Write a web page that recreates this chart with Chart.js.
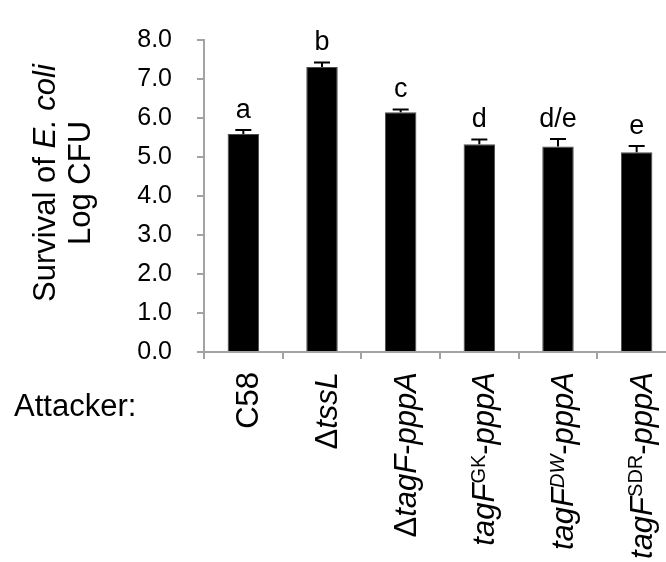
<!DOCTYPE html>
<html>
<head>
<meta charset="utf-8">
<script src="https://cdn.jsdelivr.net/npm/chart.js@4/dist/chart.umd.min.js"></script>
<style>
  html, body { margin: 0; padding: 0; background: #fff; overflow: hidden; }
  #wrap { width: 676px; height: 562px; }
</style>
</head>
<body>
<div id="wrap"><canvas id="c" width="676" height="562"></canvas></div>
<script>
// Attacker strains, mean survival of E. coli (log CFU), standard errors and group letters
const categories = ['C58', 'ΔtssL', 'ΔtagF-pppA', 'tagFGK-pppA', 'tagFDW-pppA', 'tagFSDR-pppA'];
const survival = [5.59, 7.31, 6.15, 5.33, 5.27, 5.12];
const stdErr = [0.10, 0.11, 0.07, 0.12, 0.19, 0.16];
const groupLetters = ['a', 'b', 'c', 'd', 'd/e', 'e'];
const yMin = 0, yMax = 8, yStep = 1;

// Styled pieces of each strain name: '' plain, 'i' italic, 's' superscript, 'si' italic superscript
const labelParts = [
  [['C58', '']],
  [['Δ', ''], ['tssL', 'i']],
  [['Δ', ''], ['tagF', 'i'], ['-', ''], ['pppA', 'i']],
  [['tagF', 'i'], ['GK', 's'], ['-', ''], ['pppA', 'i']],
  [['tagF', 'i'], ['DW', 'si'], ['-', ''], ['pppA', 'i']],
  [['tagF', 'i'], ['SDR', 's'], ['-', ''], ['pppA', 'i']]
];
const titleLines = [
  [['Survival of ', ''], ['E. coli', 'i']],
  [['Log CFU', '']]
];

const FAMILY = "'Liberation Sans', Arial, sans-serif";
const AXIS_GREY = '#a3a3a3';

function partFont(style, size) {
  const sup = style.indexOf('s') >= 0;
  const it = style.indexOf('i') >= 0;
  const px = sup ? Math.round(size * 0.65) : size;
  return (it ? 'italic ' : '') + px + 'px ' + FAMILY;
}
function richWidth(ctx, parts, size) {
  let w = 0;
  parts.forEach(([t, s]) => { ctx.font = partFont(s, size); w += ctx.measureText(t).width; });
  return w;
}
// draw styled text along the current x direction, starting at x0 on baseline 0
function drawRich(ctx, parts, x0, size) {
  let x = x0;
  parts.forEach(([t, s]) => {
    ctx.font = partFont(s, size);
    const raise = s.indexOf('s') >= 0 ? -size * 0.3 : 0;
    ctx.fillText(t, x, raise);
    x += ctx.measureText(t).width;
  });
}

const annotations = {
  id: 'annotations',
  afterDatasetsDraw(chart) {
    const ctx = chart.ctx;
    const y = chart.scales.y;
    const meta = chart.getDatasetMeta(0);
    ctx.save();
    // error bars (upper half) and group letters
    meta.data.forEach((bar, i) => {
      const top = y.getPixelForValue(survival[i]);
      const hi = y.getPixelForValue(survival[i] + stdErr[i]);
      ctx.strokeStyle = '#000';
      ctx.lineWidth = 2;
      ctx.beginPath();
      ctx.moveTo(bar.x, top);
      ctx.lineTo(bar.x, hi);
      ctx.moveTo(bar.x - 8, hi);
      ctx.lineTo(bar.x + 8, hi);
      ctx.stroke();
      ctx.fillStyle = '#000';
      ctx.font = '27px ' + FAMILY;
      ctx.textAlign = 'center';
      ctx.textBaseline = 'alphabetic';
      ctx.fillText(groupLetters[i], bar.x, hi - 12.5);
    });
    ctx.restore();
  },
  afterDraw(chart) {
    const ctx = chart.ctx;
    const x = chart.scales.x;
    const area = chart.chartArea;
    ctx.save();
    ctx.fillStyle = '#000';
    ctx.textAlign = 'left';
    ctx.textBaseline = 'alphabetic';
    // strain names, rotated, ending just below the axis
    categories.forEach((c, i) => {
      const cx = x.getPixelForValue(i);
      const w = richWidth(ctx, labelParts[i], 31);
      ctx.save();
      ctx.translate(cx + 15, area.bottom + 20);
      ctx.rotate(-Math.PI / 2);
      drawRich(ctx, labelParts[i], -w, 31);
      ctx.restore();
    });
    // axis title, two centred lines
    const midY = 183;
    [55, 90].forEach((bx, li) => {
      const w = richWidth(ctx, titleLines[li], 31);
      ctx.save();
      ctx.translate(bx, midY);
      ctx.rotate(-Math.PI / 2);
      drawRich(ctx, titleLines[li], -w / 2, 31);
      ctx.restore();
    });
    // row caption for the strain names
    ctx.font = '31px ' + FAMILY;
    ctx.fillText('Attacker:', 14, 416);
    ctx.restore();
  }
};

new Chart(document.getElementById('c'), {
  type: 'bar',
  data: {
    labels: categories,
    datasets: [{
      data: survival,
      backgroundColor: '#000',
      borderColor: '#4d4d4d',
      borderWidth: 1,
      barPercentage: 0.4,
      categoryPercentage: 1.0
    }]
  },
  options: {
    responsive: false,
    animation: false,
    devicePixelRatio: 1,
    layout: { padding: { top: 24, right: 0, bottom: 0, left: 0 } },
    plugins: { legend: { display: false }, tooltip: { enabled: false } },
    scales: {
      x: {
        ticks: { display: false },
        grid: { drawOnChartArea: false, drawTicks: true, tickLength: 7, color: AXIS_GREY, lineWidth: 2 },
        border: { display: true, color: AXIS_GREY, width: 2 },
        afterFit: s => { s.height = 210; }
      },
      y: {
        min: yMin,
        max: yMax,
        ticks: {
          stepSize: yStep,
          padding: 25,
          color: '#000',
          font: { family: FAMILY, size: 25 },
          callback: v => v.toFixed(1)
        },
        grid: { drawOnChartArea: false, drawTicks: true, tickLength: 7, color: AXIS_GREY, lineWidth: 2 },
        border: { display: true, color: AXIS_GREY, width: 2 },
        afterFit: s => { s.width = 204; }
      }
    }
  },
  plugins: [annotations]
});
</script>
</body>
</html>
